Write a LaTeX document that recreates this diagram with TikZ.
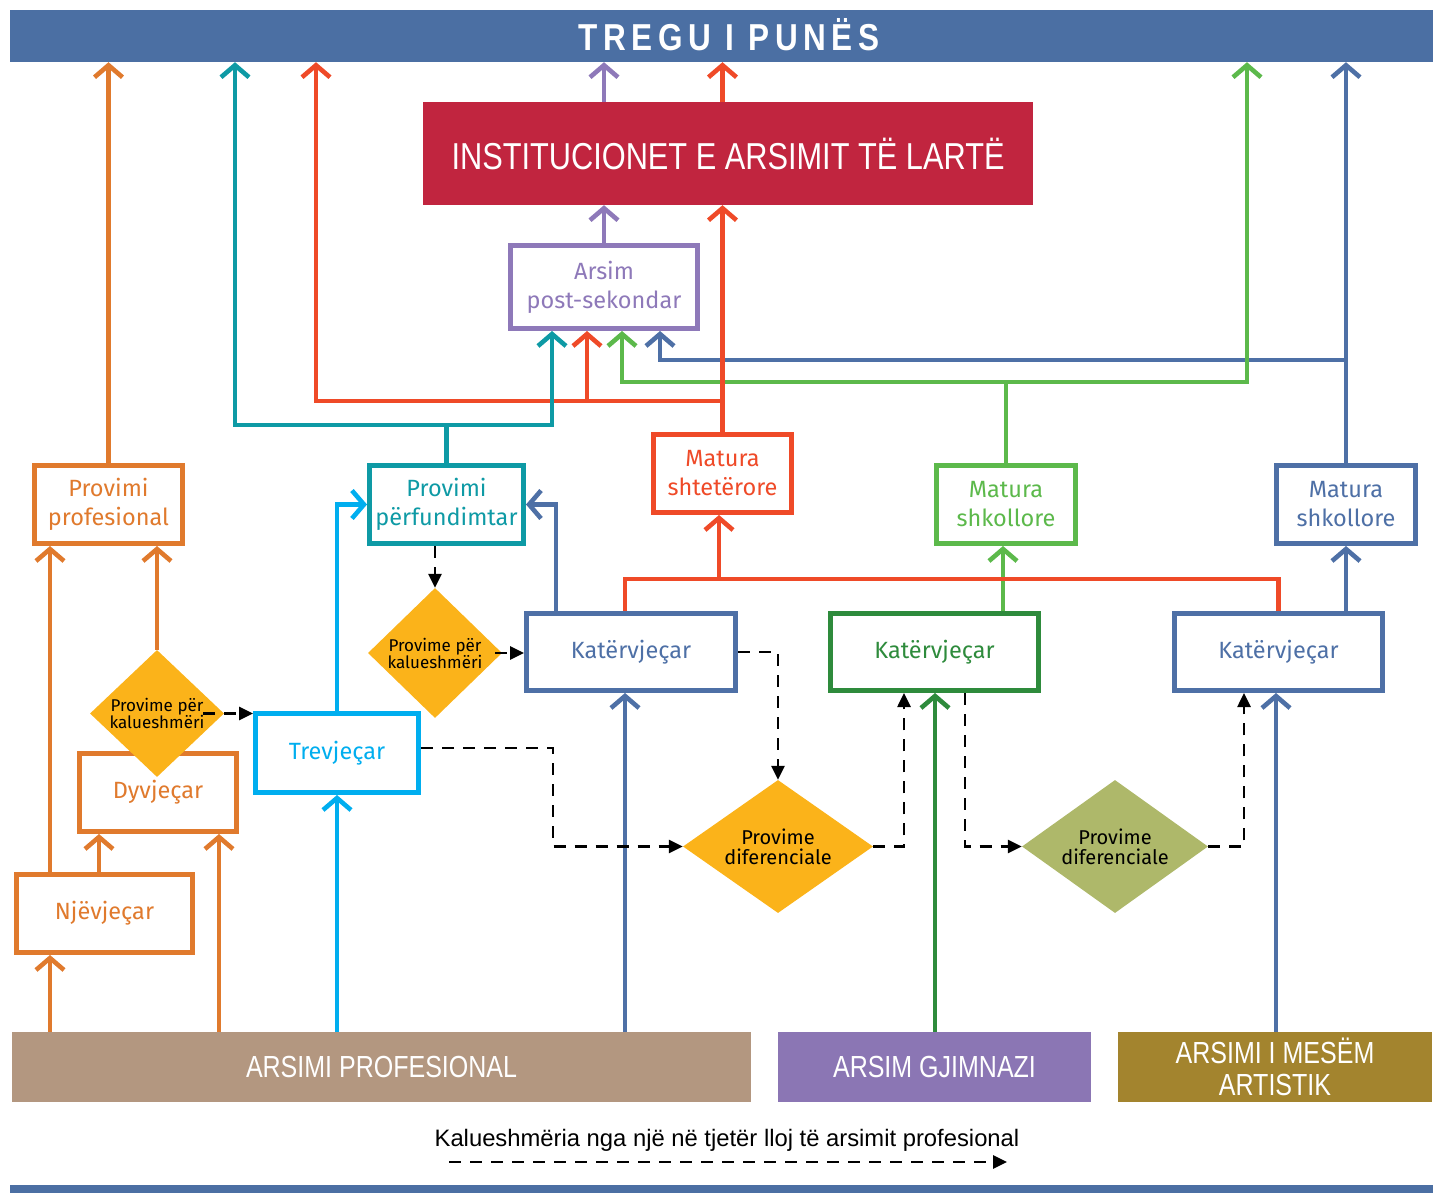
\documentclass[tikz,border=0pt]{standalone}
\usepackage{fontspec}
\setmainfont{Fira Sans}
\newfontfamily\narrowfont[FakeStretch=0.82]{Liberation Sans}
\newfontfamily\plainfont{Liberation Sans}
\newfontfamily\titlefont[FakeStretch=0.84,LetterSpace=15]{Liberation Sans}
\usepackage{tikz}
\usetikzlibrary{shapes,arrows.meta,positioning}
\definecolor{barblue}{HTML}{4B6FA3}
\definecolor{instred}{HTML}{C1253F}
\definecolor{purpleC}{HTML}{8E79B9}
\definecolor{orangeC}{HTML}{E07A2D}
\definecolor{tealC}{HTML}{0E9AA5}
\definecolor{redC}{HTML}{EF4A28}
\definecolor{greenC}{HTML}{5CB94B}
\definecolor{blueC}{HTML}{4E70A6}
\definecolor{dgreenC}{HTML}{2E8B3C}
\definecolor{cyanC}{HTML}{00AEEF}
\definecolor{yellowC}{HTML}{FBB31A}
\definecolor{oliveC}{HTML}{AEB86A}
\definecolor{tanC}{HTML}{B39780}
\definecolor{gymC}{HTML}{8B76B4}
\definecolor{artC}{HTML}{A3842E}

\begin{document}
\begin{tikzpicture}[x=1pt,y=-1pt]
    \tikzstyle{box}=[draw=#1, text=#1, fill=white, line width=5pt, align=center, inner sep=0pt, font=\fontsize{23.5}{29}\selectfont]
    \tikzstyle{band}=[fill=#1, text=white, inner sep=0pt, align=center, font=\narrowfont\fontsize{30.5}{32}\selectfont]
    \tikzstyle{gate}=[diamond, fill=#1, inner sep=0pt, align=center, text=black]
    \tikzstyle{link}=[draw=#1, line width=4.6pt]
    \tikzstyle{rise}=[link=#1, -{Straight Barb[length=12pt,width=28pt]}]
    \tikzstyle{pass}=[draw=black, line width=2.6pt, dash pattern=on 12pt off 9pt, -{Triangle[length=14pt,width=13pt]}]

    \useasboundingbox (0,0) rectangle (1433,1193);

    % Draw the market bar and the higher education block
    \node[band=barblue, minimum width=1423pt, minimum height=52pt] (market) at (721.5,36) {};
    \node[text=white, inner sep=0pt, font=\titlefont\bfseries\fontsize{37.5}{37.5}\selectfont] (marketlabel) at (729,34.5) {TREGU I PUNËS};
    \node[band=instred, minimum width=610pt, minimum height=103pt, font=\narrowfont\fontsize{37.5}{40}\selectfont] (higher) at (728,153.5) {INSTITUCIONET E ARSIMIT TË LARTË};
    \node[box=purpleC, minimum width=187pt, minimum height=83pt] (post) at (604,287) {Arsim\\post-sekondar};

    % Draw the exam boxes
    \node[box=orangeC, minimum width=148pt, minimum height=78pt] (provprof) at (108.5,504.5) {Provimi\\profesional};
    \node[box=tealC, minimum width=154pt, minimum height=78pt] (provperf) at (446.5,504.5) {Provimi\\përfundimtar};
    \node[box=redC, minimum width=138pt, minimum height=78pt] (matshtet) at (722.5,473.5) {Matura\\shtetërore};
    \node[box=greenC, minimum width=139pt, minimum height=78pt] (matshkG) at (1006,504.5) {Matura\\shkollore};
    \node[box=blueC, minimum width=139pt, minimum height=78pt] (matshkB) at (1346,504.5) {Matura\\shkollore};

    % Draw the school boxes
    \node[box=blueC, minimum width=209pt, minimum height=77pt] (katA) at (631,652) {Katërvjeçar};
    \node[box=dgreenC, minimum width=208pt, minimum height=77pt] (katB) at (934.5,652) {Katërvjeçar};
    \node[box=blueC, minimum width=208pt, minimum height=77pt] (katC) at (1278.5,652) {Katërvjeçar};
    \node[box=cyanC, minimum width=163pt, minimum height=79pt] (trev) at (337,753) {Trevjeçar};
    \node[box=orangeC, minimum width=157pt, minimum height=78pt] (dyv) at (158,792.5) {Dyvjeçar};
    \node[box=orangeC, minimum width=176pt, minimum height=78pt] (njev) at (104.5,913.5) {Njëvjeçar};

    % Draw the exam diamonds
    \node[gate=yellowC, minimum width=134pt, minimum height=127pt, aspect=1.05, font=\fontsize{17}{17}\selectfont] (kalA) at (157,713.5) {Provime për\\kalueshmëri};
    \node[gate=yellowC, minimum width=134pt, minimum height=130pt, aspect=1.03, font=\fontsize{17}{17}\selectfont] (kalB) at (435,653) {Provime për\\kalueshmëri};
    \node[gate=yellowC, minimum width=190pt, minimum height=133pt, aspect=1.43, font=\fontsize{20}{20}\selectfont] (difA) at (778,846.5) {Provime\\diferenciale};
    \node[gate=oliveC, minimum width=186pt, minimum height=133pt, aspect=1.4, font=\fontsize{20}{20}\selectfont] (difB) at (1115,846.5) {Provime\\diferenciale};

    % Draw the school types
    \node[band=tanC, minimum width=739pt, minimum height=70pt] (vocational) at (381.5,1067) {ARSIMI PROFESIONAL};
    \node[band=gymC, minimum width=313pt, minimum height=70pt] (gymnasium) at (934.5,1067) {ARSIM GJIMNAZI};
    \node[band=artC, minimum width=314pt, minimum height=70pt] (artistic) at (1275,1067) {ARSIMI I MESËM\\ARTISTIK};

    % Exits to the market and to higher education
    \coordinate (bluejoin) at (1346,360);
    \draw[rise=blueC] (matshkB.north) -- (matshkB.north |- market.south);
    \draw[rise=blueC] (bluejoin) -| (660,0 |- post.south);
    \coordinate (greenjoin) at (1006,382);
    \draw[link=greenC] (matshkG.north) -- (greenjoin);
    \draw[rise=greenC] (greenjoin) -| (622,0 |- post.south);
    \draw[rise=greenC] (greenjoin) -| (1247,0 |- market.south);
    \coordinate (redjoin) at (722.5,401);
    \coordinate (redfork) at (587,401);
    \draw[rise=redC] (matshtet.north) -- (matshtet.north |- higher.south);
    \draw[rise=redC] (722.5,0 |- higher.north) -- (722.5,0 |- market.south);
    \draw[rise=redC] (redjoin) -| (316,0 |- market.south);
    \draw[rise=redC] (redfork) -- (redfork |- post.south);
    \draw[rise=purpleC] (post.north) -- (post.north |- higher.south);
    \draw[rise=purpleC] (post.north |- higher.north) -- (post.north |- market.south);
    \coordinate (tealjoin) at (446.5,425);
    \draw[link=tealC] (provperf.north) -- (tealjoin);
    \draw[rise=tealC] (tealjoin) -| (235,0 |- market.south);
    \draw[rise=tealC] (tealjoin) -| (552,0 |- post.south);
    \draw[rise=orangeC] (provprof.north) -- (provprof.north |- market.south);

    % Connect the schools with the exams
    \coordinate (redbar) at (719,579);
    \draw[rise=greenC] (1003,0 |- katB.north) -- (1003,0 |- matshkG.south);
    \draw[link=redC] (625,0 |- katA.north) |- (katC.north |- redbar) -- (katC.north);
    \draw[rise=redC] (redbar) -- (redbar |- matshtet.south);
    \draw[rise=blueC] (katC.north -| matshkB.south) -- (matshkB.south);
    \draw[rise=blueC] (556,0 |- katA.north) |- (provperf.east);
    \draw[rise=orangeC] (kalA.north) -- (kalA.north |- provprof.south);
    \draw[rise=orangeC] (50,0 |- njev.north) -- (50,0 |- provprof.south);
    \draw[rise=orangeC] (99,0 |- njev.north) -- (99,0 |- dyv.south);
    \draw[rise=orangeC] (219,0 |- vocational.north) -- (219,0 |- dyv.south);
    \draw[rise=orangeC] (50,0 |- vocational.north) -- (50,0 |- njev.south);
    \draw[rise=cyanC] (trev.south |- vocational.north) -- (trev.south);
    \draw[rise=cyanC] (trev.north) |- (provperf.west);
    \draw[rise=blueC] (625,0 |- vocational.north) -- (625,0 |- katA.south);
    \draw[rise=dgreenC] (935,0 |- gymnasium.north) -- (935,0 |- katB.south);
    \draw[rise=blueC] (1276,0 |- artistic.north) -- (1276,0 |- katC.south);

    % Dashed transfers
    \draw[pass] (203,0 |- kalA.east) -- (kalA.east -| trev.west);
    \draw[pass] (kalB.north |- provperf.south) -- (kalB.north);
    \draw[pass] (495,0 |- kalB.east) -- (kalB.east -| katA.west);
    \draw[pass] (trev.east |- 0,748) -| (553,0 |- difA.west) -- (difA.west);
    \draw[pass] (katA.east) -| (difA.north);
    \draw[pass] (difA.east) -| (904,0 |- katB.south);
    \draw[pass] (965,0 |- katB.south) |- (difB.west);
    \draw[pass] (difB.east) -| (1244,0 |- katC.south);

    % Legend
    \node[font=\plainfont\fontsize{23.8}{23.8}\selectfont] (legend) at (727,1140) {Kalueshmëria nga një në tjetër lloj të arsimit profesional};
    \coordinate (legA) at (449,1162);
    \coordinate (legB) at (1007,1162);
    \draw[pass] (legA) -- (legB);
    \fill[barblue] (10,1185) rectangle (1433,1193);

\end{tikzpicture}
\end{document}
